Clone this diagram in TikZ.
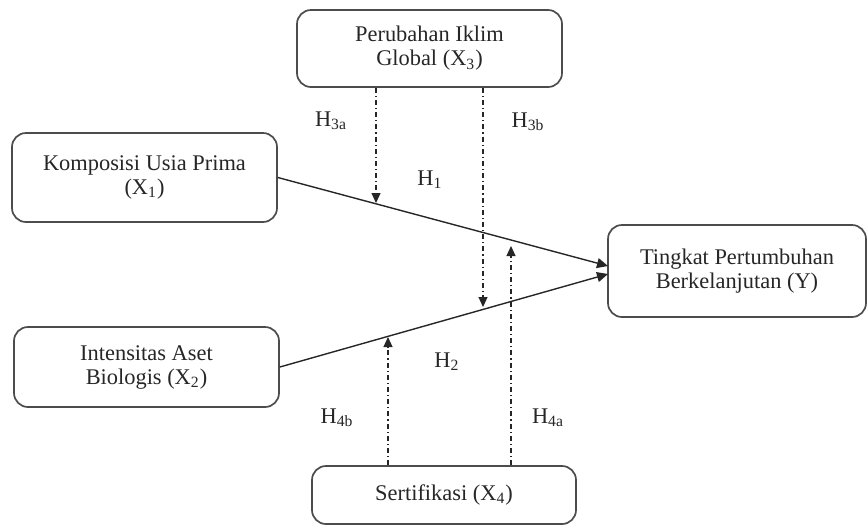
\documentclass[tikz,border=0pt]{standalone}
\usepackage{fontspec}
\setmainfont{Liberation Serif}
\usetikzlibrary{arrows.meta}
\begin{document}
\begin{tikzpicture}[x=0.5pt,y=-0.5pt,
  box/.style={draw=black!70,line width=0.85pt,rounded corners=7pt,align=center,inner sep=0pt,font=\fontsize{11.2}{12}\selectfont,text=black!85},
  lab/.style={font=\fontsize{11.2}{12}\selectfont,text=black!85,inner sep=0pt},
  mainarrow/.style={draw=black!85,line width=0.7pt,-{Triangle[length=5.5pt,width=5pt]}},
  moder/.style={draw=black!85,line width=0.55pt,dash pattern=on 2.5pt off 1.5pt on 0.6pt off 1.5pt,-{Triangle[length=5pt,width=4.5pt]}}]
\useasboundingbox (0,0) rectangle (867,527);
\node[box,minimum width=132.5pt,minimum height=38.5pt] (X3) at (429.5,48.5) {Perubahan Iklim\\Global (X\textsubscript{3})};
\node[box,minimum width=132.5pt,minimum height=44.5pt] (X1) at (144.5,177.5) {Komposisi Usia Prima\\(X\textsubscript{1})};
\node[box,minimum width=132.5pt,minimum height=40pt] (X2) at (146.5,367) {Intensitas Aset\\Biologis (X\textsubscript{2})};
\node[box,minimum width=129pt,minimum height=46pt] (Y) at (737,271) {Tingkat Pertumbuhan\\Berkelanjutan (Y)};
\node[box,minimum width=132pt,minimum height=29pt] (X4) at (444,495) {Sertifikasi (X\textsubscript{4})};
\coordinate (y1) at (608,266);
\coordinate (y2) at (608,274);
\draw[mainarrow] (X1.east) -- (y1);
\draw[mainarrow] (X2.east) -- (y2);
\coordinate (m1) at (376,203);
\coordinate (m2) at (483,307);
\coordinate (m3) at (388,337);
\coordinate (m4) at (511,246);
\draw[moder] (X3.south -| m1) -- (m1);
\draw[moder] (X3.south -| m2) -- (m2);
\draw[moder] (X4.north -| m3) -- (m3);
\draw[moder] (X4.north -| m4) -- (m4);
\node[lab] (h3a) at (331,121) {H\textsubscript{3a}};
\node[lab] (h3b) at (528,122) {H\textsubscript{3b}};
\node[lab] (h1) at (430,180) {H\textsubscript{1}};
\node[lab] (h2) at (447,362) {H\textsubscript{2}};
\node[lab] (h4b) at (337,418) {H\textsubscript{4b}};
\node[lab] (h4a) at (548,418) {H\textsubscript{4a}};
\end{tikzpicture}
\end{document}
